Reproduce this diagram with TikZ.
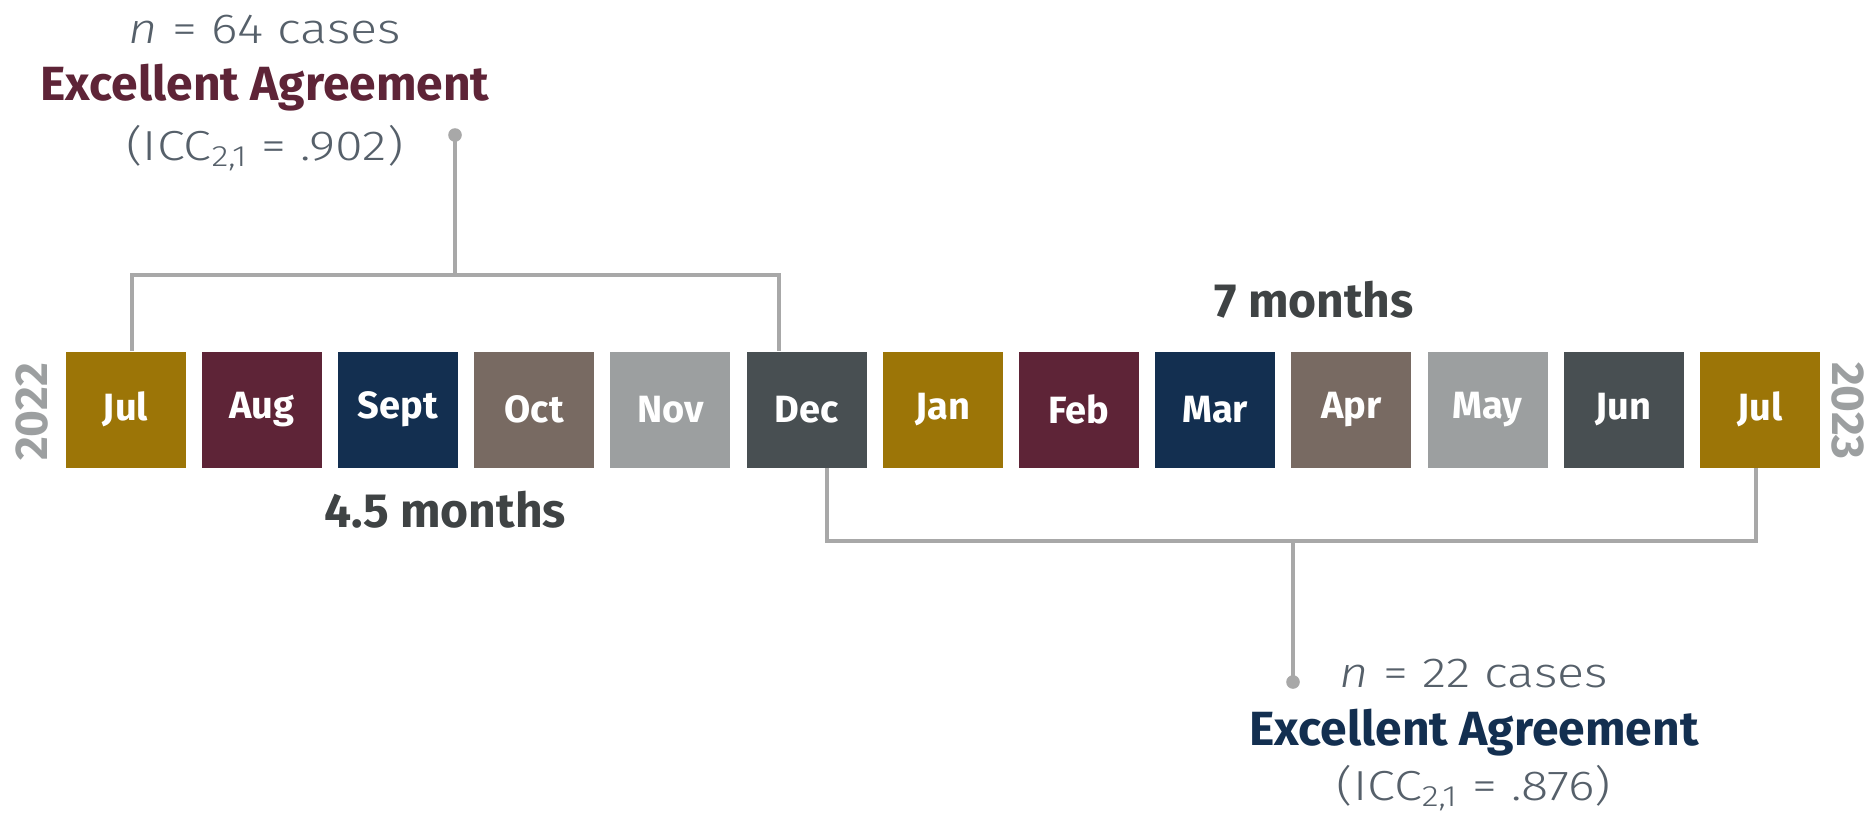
\documentclass[tikz,border=0pt]{standalone}
\usepackage{fontspec}
\setmainfont{Fira Sans}
\newfontfamily\lightfont{Fira Sans Light}[FakeStretch=1.2]
\usetikzlibrary{calc}

\definecolor{gold}{HTML}{9C7507}
\definecolor{maroon}{HTML}{5E2437}
\definecolor{navy}{HTML}{132F50}
\definecolor{taupe}{HTML}{786A62}
\definecolor{silver}{HTML}{9C9FA0}
\definecolor{slate}{HTML}{484F52}
\definecolor{linegray}{HTML}{A8A8A8}
\definecolor{textgray}{HTML}{56606A}
\definecolor{darktext}{HTML}{3F4344}

\tikzset{
  month/.style={minimum width=60pt,minimum height=58pt,inner sep=0pt,text=white,
                font=\fontsize{19}{22}\selectfont\bfseries},
  year/.style={text=silver,font=\fontsize{23}{26}\selectfont\bfseries},
  span/.style={anchor=base,text=darktext,font=\fontsize{24}{28}\selectfont\bfseries},
  cases/.style={anchor=base,text=textgray,font=\lightfont\fontsize{21}{24}\selectfont},
  verdict/.style={anchor=base,font=\fontsize{24}{28}\selectfont\bfseries},
  bracket/.style={draw=linegray,line width=2pt}
}

\begin{document}
\begin{tikzpicture}[x=0.5pt,y=-0.5pt]

\useasboundingbox (0,0) rectangle (1870,815);

% month boxes
\foreach \name/\col [count=\i] in {Jul/gold,Aug/maroon,Sept/navy,Oct/taupe,Nov/silver,Dec/slate,
                                    Jan/gold,Feb/maroon,Mar/navy,Apr/taupe,May/silver,Jun/slate,Jul/gold}
  \node[month,fill=\col] (m\i) at ({125.5+136.2*(\i-1)},409.5) {\name};

\node[year,rotate=90] (y2022) at (32,412) {2022};
\node[year,rotate=-90] (y2023) at (1848,411) {2023};

% top bracket
\coordinate (ta) at ($(m1.north west)!.55!(m1.north east)$);
\coordinate (tb) at ($(m6.north west)!.27!(m6.north east)$);
\coordinate (topbar) at (455,275);
\coordinate (topdot) at (455,135);
\draw[bracket] (ta) |- (topbar) -| (tb);
\draw[bracket] (topbar) -- (topdot);
\fill[linegray] (topdot) circle (3.4pt);

% bottom bracket
\coordinate (ba) at ($(m6.south west)!.67!(m6.south east)$);
\coordinate (bb) at ($(m13.south west)!.47!(m13.south east)$);
\coordinate (botbar) at (1293,541);
\coordinate (botdot) at (1293,682);
\draw[bracket] (ba) |- (botbar) -| (bb);
\draw[bracket] (botbar) -- (botdot);
\fill[linegray] (botdot) circle (3.4pt);

\node[span] (long) at (1314,317) {7 months};
\node[span] (short) at (445,527) {4.5 months};

\node[cases] (topn) at (265,43) {\textit{n} = 64 cases};
\node[verdict,text=maroon] (topagr) at (265,100) {Excellent Agreement};
\node[cases] (topicc) at (265,160) {(ICC\textsubscript{2,1} = .902)};

\node[cases] (botn) at (1474,687) {\textit{n} = 22 cases};
\node[verdict,text=navy] (botagr) at (1474,745) {Excellent Agreement};
\node[cases] (boticc) at (1474,800) {(ICC\textsubscript{2,1} = .876)};

\end{tikzpicture}
\end{document}
